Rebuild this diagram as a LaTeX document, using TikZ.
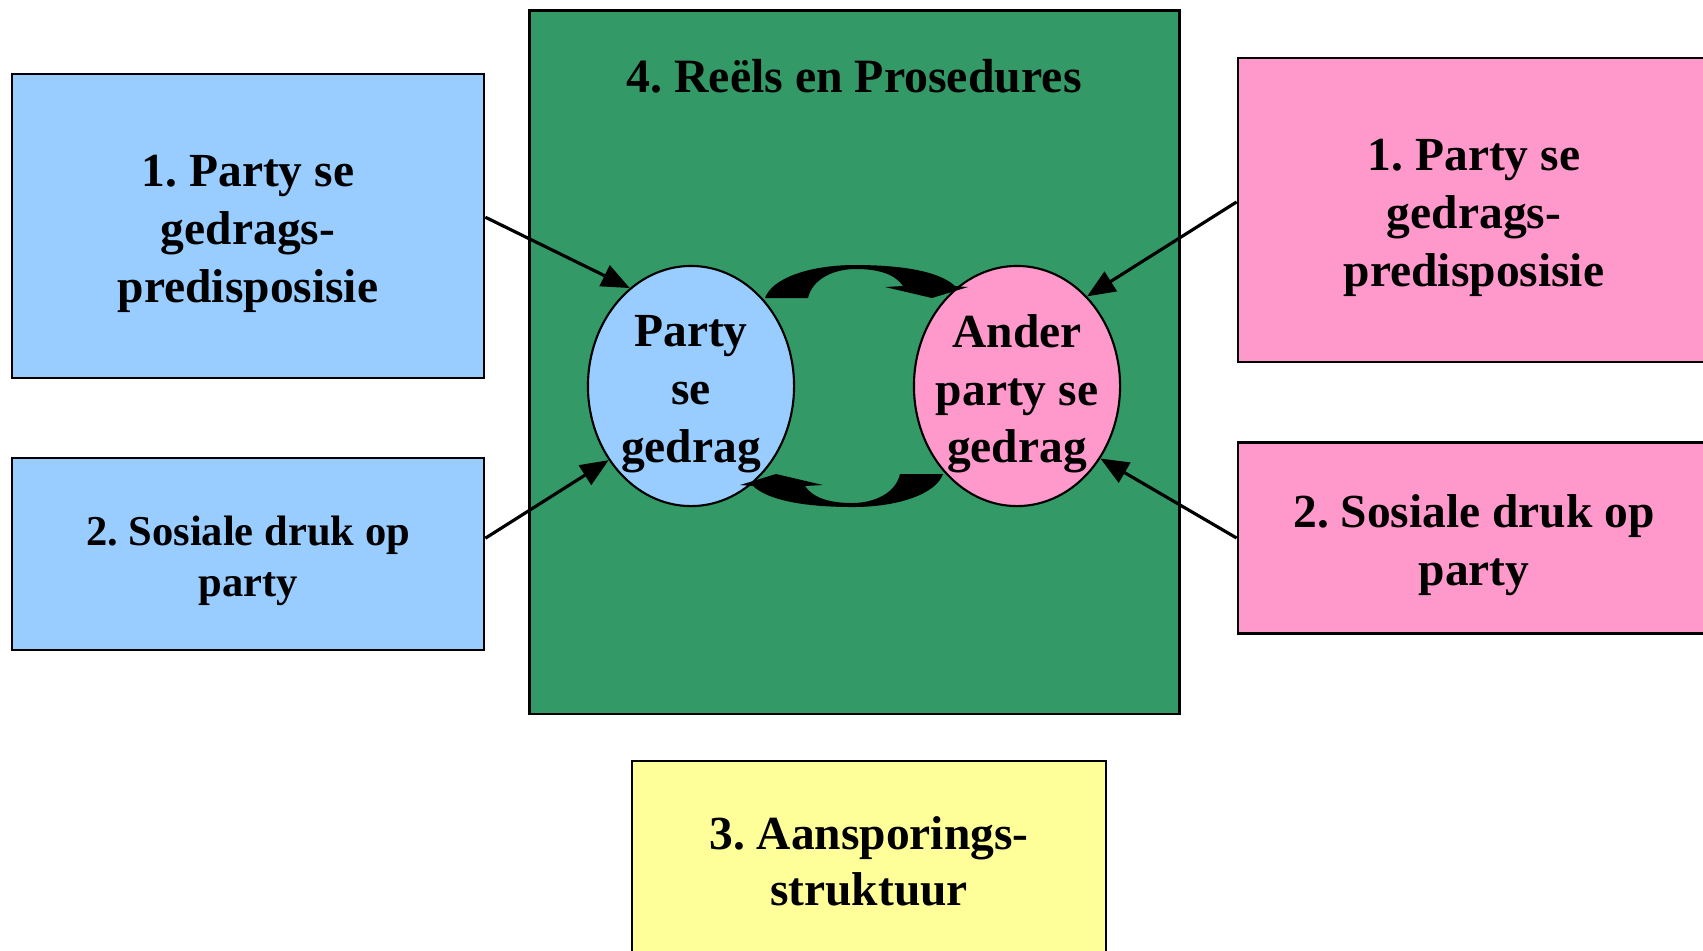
\documentclass[tikz,border=0pt]{standalone}
\usepackage{fontspec}
\setmainfont{Liberation Serif}
\usetikzlibrary{arrows.meta,shapes.geometric}

\definecolor{lichtblou}{HTML}{99CCFF}
\definecolor{pienk}{HTML}{FF99CC}
\definecolor{groen}{HTML}{339966}
\definecolor{geel}{HTML}{FFFF99}

\tikzset{
  kas/.style={draw=black, line width=0.7pt, inner sep=0pt, minimum width=4.72cm},
  kasteks/.style={align=center, inner sep=0pt, font=\bfseries\fontsize{13.5}{16.5}\selectfont},
  ovaal/.style={ellipse, draw=black, line width=0.6pt, inner sep=0pt,
    minimum width=2.06cm, minimum height=2.40cm},
  ovaalteks/.style={align=center, inner sep=0pt, font=\bfseries\fontsize{13.5}{16.4}\selectfont},
  pyl/.style={line width=0.9pt, -{Triangle[length=8pt,width=6.5pt]}},
}

\begin{document}
\frenchspacing
\begin{tikzpicture}[x=0.01cm, y=-0.01cm]
  \useasboundingbox (0,0) rectangle (1703,950);

  %% die groot blok met reels en prosedures
  \node[draw=black, line width=0.7pt, fill=groen, inner sep=0pt,
    minimum width=6.50cm, minimum height=7.03cm] (reels) at (854.5,362) {};
  \node[kasteks, font=\bfseries\fontsize{13.6}{16.5}\selectfont] (reelstitel) at (854,76) {4. Reëls en Prosedures};

  %% die twee partye se gedrag
  \node[ovaal, fill=lichtblou] (pgedrag) at (691,386) {};
  \node[ovaalteks] (pgedragteks) at (691,394) {Party\\se\\gedrag};
  \node[ovaal, fill=pienk] (agedrag) at (1017,386) {};
  \node[ovaalteks] (agedragteks) at (1017,394) {Ander\\party se\\gedrag};

  %% invloede links (blou) en regs (pienk)
  \node[kas, fill=lichtblou, minimum height=3.04cm] (bpre) at (248,226) {};
  \node[kasteks] (bpreteks) at (248,233.6) {1. Party se\\gedrags-\\predisposisie};
  \node[kas, fill=lichtblou, minimum height=1.92cm] (bsoc) at (248,554) {};
  \node[kasteks, font=\bfseries\fontsize{12.1}{14.5}\selectfont] (bsocteks) at (248,560.5) {2. Sosiale druk op\\party};
  \node[kas, fill=pienk, minimum height=3.04cm] (ppre) at (1474,210) {};
  \node[kasteks] (ppreteks) at (1474,217.6) {1. Party se\\gedrags-\\predisposisie};
  \node[kas, fill=pienk, minimum height=1.91cm] (psoc) at (1474,538) {};
  \node[kasteks] (psocteks) at (1474,545.6) {2. Sosiale druk op\\party};
  \node[kas, fill=geel, minimum width=4.74cm, minimum height=2.04cm] (aans) at (869,863) {};
  \node[kasteks, font=\bfseries\fontsize{13.5}{15.9}\selectfont] (aansteks) at (869,861) {3. Aansporings-\\struktuur};

  \draw[pyl] ([yshift=2.5pt]bpre.east) -- (pgedrag.122);
  \draw[pyl] ([yshift=4.5pt]bsoc.east) -- (pgedrag.222);
  \draw[pyl] ([yshift=2.3pt]ppre.west) -- (agedrag.52);
  \draw[pyl] (psoc.west) -- (agedrag.319);

  %% geboe blokpyle tussen die ovale (onder = bo, 180 grade gedraai)
  \foreach \hoek in {0,180} {
    \begin{scope}[rotate around={\hoek:(854,386)}]
      \fill[black] (765,298) .. controls (772,278) and (810,265) .. (855,265)
        .. controls (905,265) and (940,272) .. (955,286) -- (968,287) -- (932,298) -- (885,287) -- (903,286)
        .. controls (895,274) and (878,269) .. (856,269)
        .. controls (832,269) and (812,280) .. (808,298) -- cycle;
    \end{scope}
  }
\end{tikzpicture}
\end{document}
